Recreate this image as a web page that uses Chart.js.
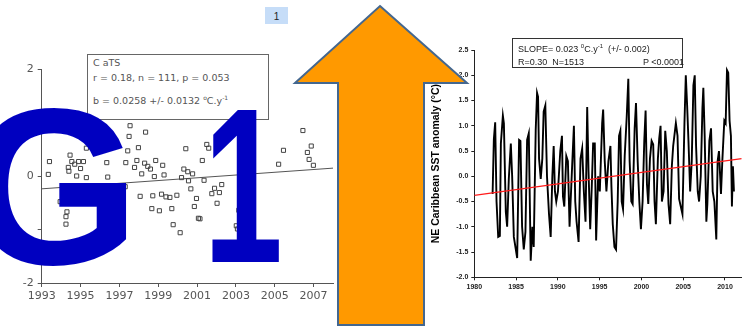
<!DOCTYPE html>
<html>
<head>
<meta charset="utf-8">
<script src="https://cdn.jsdelivr.net/npm/chart.js@4.4.1/dist/chart.umd.min.js"></script>
<style>
html, body { margin: 0; padding: 0; background: #fff; width: 751px; height: 326px; overflow: hidden; }
#wrap { position: relative; width: 751px; height: 326px; }
canvas { position: absolute; }
#leftChart { left: 0; top: 55px; }
#rightChart { left: 430px; top: 40px; }
.box { position: absolute; background: #fff; box-sizing: border-box; white-space: pre; }
.box div { position: absolute; left: 5px; line-height: 12px; }
#catsBox { left: 87px; top: 54px; width: 182px; height: 66px; border: 1px solid #666; font: 9.5px "DejaVu Sans"; color: #555; }
#sstBox { left: 512px; top: 38px; width: 171px; height: 30px; border: 1px solid #333; font: 9px "Liberation Sans"; color: #222; }
sup { font-size: 6px; vertical-align: 4px; line-height: 0; }
#overlay { position: absolute; left: 0; top: 0; }
</style>
</head>
<body>
<div id="wrap">
  <canvas id="leftChart" width="340" height="260"></canvas>
  <canvas id="rightChart" width="321" height="280"></canvas>

  <div class="box" id="catsBox">
    <div style="top:2px">C aTS</div>
    <div style="top:17px">r = 0.18, n = 111, p = 0.053</div>
    <div style="top:40px">b = 0.0258 +/- 0.0132 <sup>o</sup>C.y<sup>-1</sup></div>
  </div>
  <div class="box" id="sstBox">
    <div style="top:4px">SLOPE= 0.023 <sup>0</sup>C.y<sup>-1</sup>  (+/- 0.002)</div>
    <div style="top:17px">R=0.30  N=1513</div>
    <div style="top:17px;left:130px">P &lt;0.0001</div>
  </div>

  <svg id="overlay" width="751" height="326">
    <rect x="265" y="7" width="23" height="17" fill="#C6DDF8"/>
    <text x="276.5" y="20" font-family="Liberation Sans" font-size="10" text-anchor="middle" fill="#222">1</text>
    <polygon points="380,6 467,83 424,83 424,325 338,325 338,83 295,83" fill="#FF9900" stroke="#44678F" stroke-width="2"/>
    <text id="bigG" x="0" y="0" font-family="Liberation Sans" font-weight="bold" font-size="100" fill="#0000C0">G</text>
    <text id="big1" x="0" y="0" font-family="Liberation Sans" font-weight="bold" font-size="100" fill="#0000C0">1</text>
  </svg>
</div>

<script>
// left panel: CaTS scatter
const catsYearTicks = [1993, 1995, 1997, 1999, 2001, 2003, 2005, 2007];
const catsAnomTicks = [-2, -1, 0, 1, 2];
const catsAnomLabels = ['-2', '', '0', '', '2'];
const catsYears = [1993.34, 1993.40, 1994.46, 1994.37, 1994.40, 1994.55, 1994.70, 1994.90, 1995.15, 1995.00,
  1994.80, 1995.30, 1995.30, 1994.30, 1994.25, 1994.25, 1993.95, 1996.35, 1996.40, 1997.33,
  1997.43, 1997.50, 1997.55, 1997.30, 1997.78, 1997.90, 1997.98, 1998.15, 1998.35, 1998.30,
  1998.46, 1998.60, 1998.80, 1998.87, 1999.23, 1999.30, 1998.07, 1998.72, 1999.17, 1999.40,
  1999.60, 1999.96, 1998.67, 1999.06, 1999.70, 1999.77, 2000.13, 2000.42, 2000.32, 2000.20,
  2000.52, 2000.77, 2000.56, 2000.68, 2000.97, 2000.86, 2001.07, 2001.15, 2001.27, 2001.36,
  2001.50, 2001.60, 2001.76, 2001.90, 2002.15, 2002.27, 2002.03, 2003.22, 2003.15, 2003.02,
  2003.08, 2005.20, 2005.45, 2006.45, 2006.88, 2006.68, 2006.77, 2006.99];
const catsAnom = [0.03, 0.27, 0.39, 0.16, 0.09, 0.27, 0.22, 0.27, 0.27, 0.14,
  0.00, -0.03, 0.52, -0.67, -0.76, -0.90, -0.48, 0.25, -0.02, 0.25,
  0.47, 0.74, 0.94, -0.20, 0.16, 0.29, 0.53, 0.04, 0.82, 0.24,
  0.18, 0.13, -0.01, 0.29, 0.20, 0.02, -0.38, -0.37, -0.34, -0.39,
  -0.40, -0.36, -0.61, -0.65, -0.61, -0.91, -1.06, 0.51, 0.13, -0.03,
  0.08, 0.04, -0.09, -0.24, -0.42, -0.57, -0.79, -0.80, 0.29, -0.08,
  0.59, 0.52, -0.33, -0.23, -0.31, -0.16, -0.51, -0.11, -0.64, -0.93,
  -0.99, 0.22, 0.48, 0.85, 0.56, 0.44, 0.31, 0.20];
const catsTrendYears = [1993, 2008];
const catsTrendAnom = [-0.24, 0.147];

// right panel: NE Caribbean SST anomaly
const sstYearTicks = [1980, 1985, 1990, 1995, 2000, 2005, 2010];
const sstAnomTicks = [-2.0, -1.5, -1.0, -0.5, 0.0, 0.5, 1.0, 1.5, 2.0, 2.5];
const sstYears = [
  1982.19, 1982.34, 1982.50, 1982.66, 1982.86, 1983.06, 1983.18, 1983.42, 1983.54, 1983.77,
  1983.93, 1984.13, 1984.37, 1984.53, 1984.73, 1984.97, 1985.13, 1985.36, 1985.52, 1985.72,
  1985.92, 1986.12, 1986.32, 1986.52, 1986.75, 1986.95, 1987.11, 1987.35, 1987.51, 1987.63,
  1987.75, 1987.95, 1988.14, 1988.30, 1988.50, 1988.70, 1988.94, 1989.14, 1989.34, 1989.50,
  1989.65, 1989.81, 1990.01, 1990.29, 1990.49, 1990.61, 1990.77, 1991.01, 1991.20, 1991.40,
  1991.72, 1991.92, 1992.08, 1992.24, 1992.48, 1992.71, 1992.91, 1993.11, 1993.31, 1993.51,
  1993.67, 1993.87, 1994.06, 1994.22, 1994.42, 1994.58, 1994.82, 1995.02, 1995.30, 1995.42,
  1995.61, 1995.81, 1996.05, 1996.29, 1996.41, 1996.57, 1996.77, 1996.96, 1997.16, 1997.32,
  1997.48, 1997.64, 1997.80, 1998.00, 1998.24, 1998.43, 1998.59, 1998.79, 1998.95, 1999.19,
  1999.35, 1999.55, 1999.75, 1999.94, 2000.14, 2000.34, 2000.50, 2000.66, 2000.82, 2001.02,
  2001.22, 2001.41, 2001.57, 2001.73, 2001.97, 2002.13, 2002.29, 2002.45, 2002.65, 2002.85,
  2003.04, 2003.24, 2003.44, 2003.64, 2003.80, 2004.12, 2004.32, 2004.51, 2004.71, 2004.91,
  2005.15, 2005.31, 2005.47, 2005.63, 2005.83, 2006.02, 2006.22, 2006.38, 2006.54, 2006.74,
  2006.90, 2007.10, 2007.30, 2007.41, 2007.57, 2007.77, 2007.89, 2008.13, 2008.33, 2008.53,
  2008.73, 2008.96, 2009.12, 2009.28, 2009.52, 2009.68, 2009.92, 2010.08, 2010.24, 2010.39,
  2010.55, 2010.71, 2010.83, 2010.95, 2011.07];
const sstAnom = [
  -0.35, 0.73, 1.07, -0.5, -1.2, -1.18, 0.65, 1.2, 1.05, -0.7,
  -1.0, -0.05, 0.65, 0.0, -1.2, -1.45, -1.62, 0.72, 0.7, -1.0,
  -1.45, -1.1, 0.72, 0.85, -1.67, -1.0, -1.4, 0.92, 1.65, 1.57,
  0.35, -0.05, 0.35, 1.28, 1.4, 0.0, -0.75, -1.2, 0.0, 0.6,
  -0.3, -0.5, -0.3, 0.5, 0.8, -0.4, -0.6, 0.4, 0.3, -1.0,
  0.25, 1.0, -0.5, -0.9, -1.3, 0.35, 0.55, -0.3, -0.9, 1.37,
  0.1, -1.05, -0.2, 0.65, 0.65, -1.27, 0.0, -0.3, 1.05, 1.32,
  0.3, -0.3, 0.3, 0.6, -0.2, -0.95, -1.4, -1.45, -0.5, 0.8,
  0.9, -0.5, -0.65, 0.4, 1.18, 1.93, 0.3, -0.5, -0.55, 0.95,
  1.45, 0.3, -0.5, -1.05, -0.5, 0.7, 1.3, -0.15, -0.55, 0.35,
  0.7, 0.63, -0.5, -0.95, 0.35, 0.75, 1.0, -0.5, -0.3, 0.9,
  0.5, -0.55, -0.95, 0.2, 0.6, 1.05, 0.8, -0.45, -0.6, -0.75,
  1.05, 2.0, 1.4, 0.7, -0.3, 0.3, 1.8, 2.0, 0.6, -0.3,
  -0.5, 0.0, 1.35, 1.75, 0.8, -0.9, -0.55, 0.7, 0.95, -0.3,
  -0.5, -1.25, 0.3, 0.5, -0.35, 0.3, 1.1, 1.05, 2.1, 2.05,
  1.1, 0.8, -0.6, 0.2, -0.3];
const sstTrendYears = [1980, 2012];
const sstTrendAnom = [-0.38, 0.35];

const pairs = (xs, ys) => xs.map((x, i) => ({ x: x, y: ys[i] }));

// small helper for the plain "origin-like" axes
function axis(ticks, min, max, size, font, color, tickLen, pad, fmt) {
    return {
        type: 'linear', min: min, max: max,
        afterBuildTicks: s => { s.ticks = ticks.map(v => ({ value: v })); },
        afterFit: s => { if (s.isHorizontal()) s.height = size; else s.width = size; },
        grid: { drawOnChartArea: false, drawTicks: true, tickLength: tickLen, color: color },
        border: { display: true, color: color, width: 1 },
        ticks: { font: font, color: color, padding: pad, autoSkip: false, maxRotation: 0, callback: fmt }
    };
}

// stretch the big "G1" glyphs so their ink fills the boxes seen on the slide
function fitGlyph(id, ch, box) {
    const ctx = document.createElement('canvas').getContext('2d');
    ctx.font = 'bold 100px "Liberation Sans"';
    const m = ctx.measureText(ch);
    const inkL = -m.actualBoundingBoxLeft, inkR = m.actualBoundingBoxRight;
    const inkT = -m.actualBoundingBoxAscent, inkB = m.actualBoundingBoxDescent;
    const sy = (box.bottom - box.top) / (inkB - inkT);
    const sx = box.left === undefined ? sy : (box.right - box.left) / (inkR - inkL);
    const x0 = box.right - sx * inkR, y0 = box.bottom - sy * inkB;
    document.getElementById(id).setAttribute('transform', `matrix(${sx},0,0,${sy},${x0},${y0})`);
}
fitGlyph('bigG', 'G', { right: 127, top: 108, bottom: 266 });
fitGlyph('big1', '1', { left: 212, right: 279, top: 110, bottom: 262 });

new Chart(document.getElementById('leftChart'), {
    type: 'scatter',
    data: {
        datasets: [{
            data: pairs(catsYears, catsAnom),
            pointStyle: 'rect',
            pointRadius: 2.9,
            borderColor: '#444',
            borderWidth: 1,
            backgroundColor: 'rgba(0,0,0,0)'
        }, {
            type: 'line',
            data: pairs(catsTrendYears, catsTrendAnom),
            borderColor: '#555',
            borderWidth: 1,
            pointRadius: 0,
            fill: false
        }]
    },
    options: {
        responsive: false, animation: false,
        layout: { padding: { left: 0, top: 14, right: 7, bottom: 10 } },
        plugins: { legend: { display: false }, tooltip: { enabled: false } },
        scales: {
            x: axis(catsYearTicks, 1993, 2008, 22, { family: 'DejaVu Sans', size: 11 }, '#555', 4, 3, v => String(v)),
            y: axis(catsAnomTicks, -2, 2, 41.7, { family: 'DejaVu Sans', size: 11 }, '#555', 4, 4,
                (v, i) => catsAnomLabels[i])
        }
    }
});

const sstFont = { family: 'Liberation Sans', size: 7, weight: 'bold' };
const sstY = axis(sstAnomTicks, -2, 2.5, 44.3, sstFont, '#222', 3, 3, v => v.toFixed(1));
sstY.title = {
    display: true,
    text: 'NE Caribbean SST anomaly (\u00B0C)',
    font: { family: 'Liberation Sans', size: 10.5, weight: 'bold' },
    color: '#000',
    padding: { top: 0, bottom: 0 }
};

new Chart(document.getElementById('rightChart'), {
    type: 'line',
    data: {
        datasets: [{
            data: pairs(sstTrendYears, sstTrendAnom),
            borderColor: '#FF1A1A',
            borderWidth: 1.3,
            pointRadius: 0,
            order: 0
        }, {
            data: pairs(sstYears, sstAnom),
            borderColor: '#000',
            borderWidth: 1.9,
            pointRadius: 0,
            tension: 0,
            order: 1
        }]
    },
    options: {
        responsive: false, animation: false,
        layout: { padding: { left: 0, top: 10, right: 9.3, bottom: 22.7 } },
        plugins: { legend: { display: false }, tooltip: { enabled: false } },
        scales: {
            x: axis(sstYearTicks, 1980, 2012, 20, sstFont, '#222', 3, 3, v => String(v)),
            y: sstY
        }
    }
});
</script>
</body>
</html>
